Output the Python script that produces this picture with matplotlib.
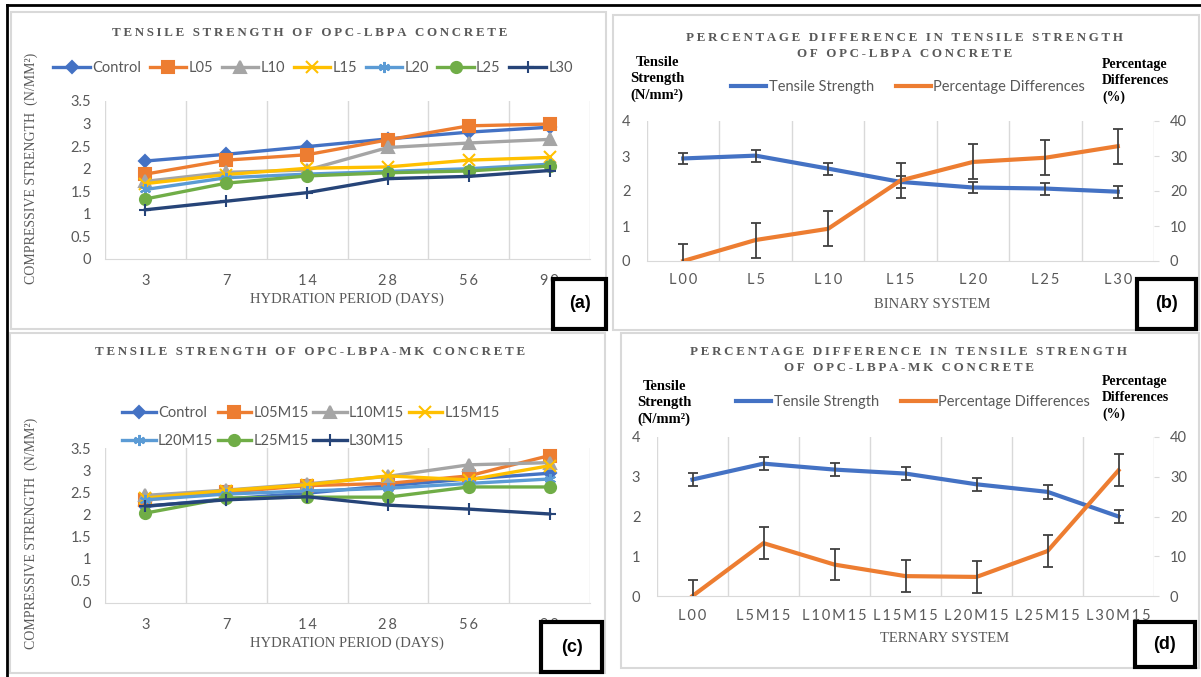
import matplotlib
matplotlib.use('Agg')
import matplotlib.pyplot as plt
from matplotlib.patches import Rectangle
from matplotlib.lines import Line2D

plt.rcParams['font.family'] = ['Lato', 'DejaVu Sans']

W, H = 1201, 677

# ---------------- data ----------------
days = ['3', '7', '14', '28', '56', '90']

a_names = ['Control', 'L05', 'L10', 'L15', 'L20', 'L25', 'L30']
a_control = [2.17, 2.32, 2.49, 2.66, 2.81, 2.92]
a_l05 = [1.88, 2.19, 2.31, 2.64, 2.95, 2.99]
a_l10 = [1.72, 1.92, 1.97, 2.47, 2.57, 2.65]
a_l15 = [1.67, 1.87, 2.01, 2.04, 2.19, 2.25]
a_l20 = [1.54, 1.80, 1.88, 1.94, 2.00, 2.10]
a_l25 = [1.33, 1.68, 1.84, 1.91, 1.95, 2.06]
a_l30 = [1.09, 1.28, 1.47, 1.78, 1.83, 1.96]

c_names = ['Control', 'L05M15', 'L10M15', 'L15M15', 'L20M15', 'L25M15', 'L30M15']
c_control = [2.18, 2.35, 2.48, 2.65, 2.80, 2.93]
c_l05 = [2.33, 2.50, 2.65, 2.70, 2.87, 3.33]
c_l10 = [2.43, 2.55, 2.69, 2.86, 3.12, 3.17]
c_l15 = [2.37, 2.54, 2.67, 2.87, 2.78, 3.10]
c_l20 = [2.33, 2.46, 2.53, 2.59, 2.70, 2.80]
c_l25 = [2.03, 2.37, 2.39, 2.39, 2.62, 2.62]
c_l30 = [2.19, 2.33, 2.40, 2.21, 2.12, 2.01]

b_cats = ['L00', 'L5', 'L10', 'L15', 'L20', 'L25', 'L30']
b_tensile = [2.93, 3.01, 2.64, 2.26, 2.10, 2.07, 1.98]
b_pct = [0.0, 6.0, 9.2, 23.0, 28.3, 29.5, 32.8]
b_tensile_err = 0.17
b_pct_err = 5

d_cats = ['L00', 'L5M15', 'L10M15', 'L15M15', 'L20M15', 'L25M15', 'L30M15']
d_tensile = [2.93, 3.33, 3.18, 3.08, 2.81, 2.62, 2.00]
d_pct = [0.0, 13.3, 7.9, 5.0, 4.8, 11.3, 31.6]
d_tensile_err = 0.17
d_pct_err = 4

# ---------------- styles ----------------
series_colors = ['#4472C4', '#ED7D31', '#A5A5A5', '#FFC000', '#5B9BD5', '#70AD47', '#264478']
series_markers = ['D', 's', '^', 'x', (6, 2, 0), 'o', '+']
series_msize = [6, 8, 8, 8, 8, 8, 8]
GRAY = '#595959'
GRID = '#D9D9D9'
SERIF = ['Liberation Serif', 'DejaVu Serif']


def sp(s):
    return '\u2009'.join(s)


def fx(px):
    return px / W


def fy(py):
    return 1 - py / H


def rect(x0, y0, x1, y1):
    return [fx(x0), fy(y1), (x1 - x0) / W, (y1 - y0) / H]


fig = plt.figure(figsize=(W / 100, H / 100), dpi=100)

# outer lines and panel borders
fig.add_artist(Line2D([fx(7), fx(1201)], [fy(5), fy(5)], color='black', lw=2))
fig.add_artist(Line2D([fx(7), fx(7)], [fy(5), fy(677)], color='black', lw=2))
for (x0, y0, x1, y1) in [(11, 12, 606, 329), (613, 15, 1199, 330), (10, 333, 605, 673), (621, 333, 1199, 668)]:
    fig.add_artist(Rectangle((fx(x0), fy(y1)), (x1 - x0) / W, (y1 - y0) / H,
                             transform=fig.transFigure, fill=False, ec=GRID, lw=1.5))


def line_panel(axr, series, names, title_y, leg_pos, leg_ncol, order, ylab_y, xlab_y, title,
               hlen, cspace):
    ax = fig.add_axes(rect(*axr))
    x = list(range(len(days)))
    handles = []
    for i, (vals, name) in enumerate(zip(series, names)):
        h, = ax.plot(x, vals, color=series_colors[i], lw=2.4, marker=series_markers[i],
                     ms=series_msize[i], mew=1.5, label=name, zorder=3)
        handles.append(h)
    ax.set_xlim(-0.5, len(days) - 0.5)
    ax.set_ylim(0, 3.5)
    for b in range(len(days) + 1):
        ax.axvline(b - 0.5, color=GRID, lw=1, zorder=1)
    for s in ['top', 'left', 'right']:
        ax.spines[s].set_visible(False)
    ax.spines['bottom'].set_color(GRID)
    ax.set_xticks(x)
    ax.set_xticklabels([sp(d) for d in days])
    ax.set_yticks([0, 0.5, 1, 1.5, 2, 2.5, 3, 3.5])
    ax.set_yticklabels(['0', '0.5', '1', '1.5', '2', '2.5', '3', '3.5'])
    ax.tick_params(axis='both', length=0, labelsize=10.5, labelcolor=GRAY)
    ax.tick_params(axis='y', pad=10)
    ax.tick_params(axis='x', pad=11)
    fig.text(fx(310), fy(title_y), sp(title), ha='center', va='center', fontsize=9.4,
             fontweight='bold', color=GRAY, family=SERIF)
    hs = [handles[k] for k in order]
    ls = [names[k] for k in order]
    fig.legend(hs, ls, ncol=leg_ncol, loc='center', bbox_to_anchor=(fx(leg_pos[0]), fy(leg_pos[1])),
               frameon=False, fontsize=10.5, handlelength=hlen, handletextpad=0.15,
               columnspacing=cspace, labelcolor=GRAY, borderpad=0, labelspacing=0.95)
    fig.text(fx(31), fy(ylab_y), 'COMPRESSIVE STRENGTH  (N/MM\u00b2)', rotation=90, ha='center',
             va='center', fontsize=10, color=GRAY, family=SERIF)
    fig.text(fx(347), fy(xlab_y), 'HYDRATION PERIOD (DAYS)', ha='center', va='center',
             fontsize=10.5, color=GRAY, family=SERIF)
    return ax


line_panel((105, 101, 590, 259), [a_control, a_l05, a_l10, a_l15, a_l20, a_l25, a_l30], a_names,
           33, (313, 68), 7, [0, 1, 2, 3, 4, 5, 6], 168, 299,
           'TENSILE STRENGTH OF OPC-LBPA CONCRETE', 2.5, 0.6)
line_panel((105, 448, 590, 603), [c_control, c_l05, c_l10, c_l15, c_l20, c_l25, c_l30], c_names,
           352, (311, 427), 4, [0, 4, 1, 5, 2, 6, 3], 533, 643,
           'TENSILE STRENGTH OF OPC-LBPA-MK CONCRETE', 2.3, 0.3)


def dual_panel(axr, cats, tens, tens_err, pct, pct_err, title_lines, title_x, title_ys,
               leg_y, leg_x, lab_l, lab_r, xlabel, xlab_pos):
    ax = fig.add_axes(rect(*axr))
    x = list(range(len(cats)))
    ax.set_xlim(-0.5, len(cats) - 0.5)
    ax.set_ylim(0, 4)
    for b in range(len(cats) + 1):
        ax.axvline(b - 0.5, color=GRID, lw=1, zorder=1)
    for s in ['top', 'left', 'right']:
        ax.spines[s].set_visible(False)
    ax.spines['bottom'].set_color(GRID)
    ax.plot(x, tens, color='#4472C4', lw=3, zorder=3)
    ax.errorbar(x, tens, yerr=tens_err, fmt='none', ecolor='#404040', elinewidth=1.3,
                capsize=3.5, capthick=1.3, zorder=4)
    ax.set_xticks(x)
    ax.set_xticklabels([sp(c) for c in cats])
    ax.set_yticks([0, 1, 2, 3, 4])
    ax.tick_params(axis='both', length=0, labelsize=10.5, labelcolor=GRAY)
    ax.tick_params(axis='y', pad=12)
    ax.tick_params(axis='x', pad=9)
    ax2 = ax.twinx()
    ax2.set_ylim(0, 40)
    ax2.set_yticks([0, 10, 20, 30, 40])
    for s in ['top', 'left', 'right', 'bottom']:
        ax2.spines[s].set_visible(False)
    ax2.plot(x, pct, color='#ED7D31', lw=3, zorder=3)
    ax2.errorbar(x, pct, yerr=pct_err, fmt='none', ecolor='#404040', elinewidth=1.3,
                 capsize=3.5, capthick=1.3, zorder=4)
    ax2.tick_params(axis='y', length=3.5, color=GRID, labelsize=10.5, labelcolor=GRAY, pad=8)
    for t, yy in zip(title_lines, title_ys):
        fig.text(fx(title_x), fy(yy), sp(t), ha='center', va='center', fontsize=9.4,
                 fontweight='bold', color=GRAY, family=SERIF)
    h1 = Line2D([], [], color='#4472C4', lw=3)
    h2 = Line2D([], [], color='#ED7D31', lw=3)
    fig.legend([h1, h2], ['Tensile Strength', 'Percentage Differences'], ncol=2, loc='center',
               bbox_to_anchor=(fx(leg_x), fy(leg_y)), frameon=False, fontsize=10.5,
               handlelength=2.4, handletextpad=0.15, columnspacing=1.5, labelcolor=GRAY,
               borderpad=0)
    fig.text(fx(lab_l[0]), fy(lab_l[1]), 'Tensile\nStrength\n(N/mm\u00b2)', ha='center', va='center',
             fontsize=10.5, fontweight='bold', color='black', family=SERIF, linespacing=1.3)
    fig.text(fx(lab_r[0]), fy(lab_r[1]), 'Percentage\nDifferences\n(%)', ha='left', va='center',
             fontsize=10, fontweight='bold', color='black', family=SERIF, linespacing=1.3)
    fig.text(fx(xlab_pos[0]), fy(xlab_pos[1]), xlabel, ha='center', va='center', fontsize=10.5,
             color=GRAY, family=SERIF)
    return ax


dual_panel((647, 121, 1154, 261), b_cats, b_tensile, b_tensile_err, b_pct, b_pct_err,
           ['PERCENTAGE DIFFERENCE IN TENSILE STRENGTH', 'OF OPC-LBPA CONCRETE'], 905, (38, 54),
           87, 908, (657, 79), (1102, 81), 'BINARY SYSTEM', (932, 305))
dual_panel((657, 437, 1154, 596), d_cats, d_tensile, d_tensile_err, d_pct, d_pct_err,
           ['PERCENTAGE DIFFERENCE IN TENSILE STRENGTH', 'OF OPC-LBPA-MK CONCRETE'], 909, (352, 368),
           402, 913, (664, 403), (1102, 398), 'TERNARY SYSTEM', (945, 638))

# panel labels
for lab, (x0, y0, x1, y1) in [('(a)', (553, 279, 606, 329)), ('(b)', (1137, 279, 1196, 329)),
                               ('(c)', (541, 622, 602, 672)), ('(d)', (1135, 622, 1195, 667))]:
    fig.add_artist(Rectangle((fx(x0), fy(y1)), (x1 - x0) / W, (y1 - y0) / H,
                             transform=fig.transFigure, fc='white', ec='black', lw=3, zorder=10))
    fig.text(fx((x0 + x1) / 2), fy((y0 + y1) / 2), lab, ha='center', va='center', fontsize=13,
             fontweight='bold', family=['Liberation Sans', 'DejaVu Sans'], zorder=11)

fig.savefig('out.png', dpi=100)
